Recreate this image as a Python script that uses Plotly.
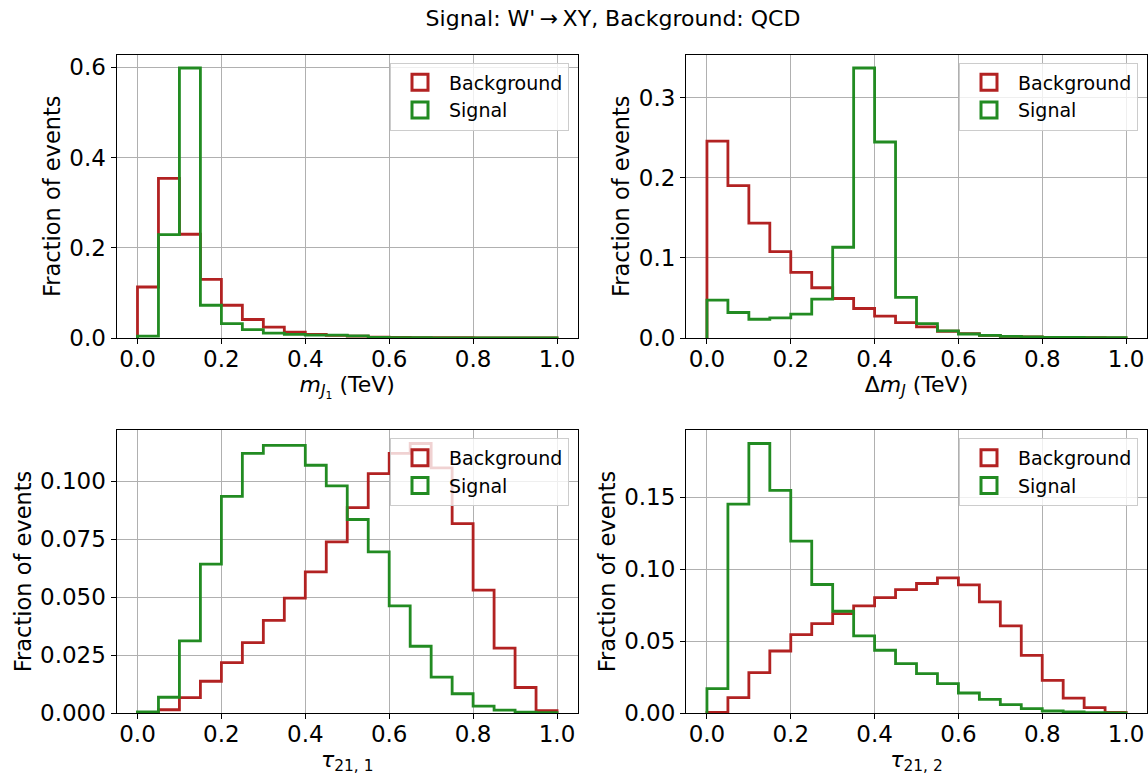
import plotly.graph_objects as go

# ---------------- data (fraction of events per bin, 20 bins on [0, 1]) ----------------
bin_edges = [0.0, 0.05, 0.1, 0.15, 0.2, 0.25, 0.3, 0.35, 0.4, 0.45, 0.5,
             0.55, 0.6, 0.65, 0.7, 0.75, 0.8, 0.85, 0.9, 0.95, 1.0]

mj1_bkg = [0.113, 0.354, 0.230, 0.130, 0.0726, 0.041, 0.024, 0.013, 0.008, 0.006,
           0.004, 0.002, 0.0012, 0.0009, 0.0007, 0.0005, 0.0004, 0.0003, 0.0002, 0.0001]
mj1_sig = [0.004, 0.229, 0.5985, 0.0726, 0.032, 0.0185, 0.011, 0.008, 0.0065, 0.0065,
           0.0045, 0.0015, 0.0008, 0.0005, 0.0004, 0.0003, 0.0002, 0.0002, 0.0001, 0.0001]

dmj_bkg = [0.2457, 0.190, 0.1433, 0.1078, 0.0819, 0.0627, 0.0493, 0.0368, 0.0272, 0.0192,
           0.0138, 0.0084, 0.0054, 0.0033, 0.002, 0.0013, 0.0008, 0.0005, 0.0003, 0.0002]
dmj_sig = [0.0472, 0.0318, 0.0234, 0.0251, 0.0297, 0.0485, 0.1132, 0.3368, 0.2445, 0.0506,
           0.018, 0.0088, 0.005, 0.0033, 0.002, 0.0013, 0.0009, 0.0006, 0.0004, 0.0003]

tau1_bkg = [0.0002, 0.0014, 0.0066, 0.0137, 0.0217, 0.0304, 0.040, 0.0496, 0.0609, 0.0738,
            0.0886, 0.1033, 0.112, 0.1163, 0.1058, 0.0817, 0.053, 0.028, 0.011, 0.001]
tau1_sig = [0.0005, 0.0068, 0.0311, 0.0642, 0.0935, 0.112, 0.1155, 0.1155, 0.1069, 0.098,
            0.0835, 0.0695, 0.0462, 0.0288, 0.0155, 0.0083, 0.003, 0.0012, 0.0004, 0.0001]

tau2_bkg = [0.0005, 0.0107, 0.0281, 0.0431, 0.0545, 0.0621, 0.0691, 0.0744, 0.0802, 0.0858,
            0.090, 0.0939, 0.089, 0.0772, 0.0605, 0.0401, 0.0227, 0.0104, 0.0037, 0.0005]
tau2_sig = [0.0169, 0.1451, 0.1873, 0.1547, 0.1194, 0.0893, 0.0707, 0.0536, 0.0436, 0.0343,
            0.0274, 0.0204, 0.0139, 0.0095, 0.0058, 0.003, 0.0014, 0.0007, 0.0002, 0.0001]

x_tick_vals = [0.0, 0.2, 0.4, 0.6, 0.8, 1.0]
y_ticks_mj1 = [0.0, 0.2, 0.4, 0.6]
y_ticks_dmj = [0.0, 0.1, 0.2, 0.3]
y_ticks_tau1 = [0.0, 0.025, 0.05, 0.075, 0.1]
y_ticks_tau2 = [0.0, 0.05, 0.1, 0.15]

x_labels = ["<i>m</i><sub><i>J</i><sub>1</sub></sub> (TeV)",
            "Δ<i>m</i><sub><i>J</i></sub> (TeV)",
            "<i>τ</i><sub>21, 1</sub>",
            "<i>τ</i><sub>21, 2</sub>"]
title_text = "Signal: W'\u2009→\u2009XY, Background: QCD"
series_names = ["Background", "Signal"]

# ---------------- style / layout ----------------
W, H = 1148, 777
RED = "#b22222"
GREEN = "#228b22"
FONT = "DejaVu Sans"
LW = 2.8

cols = [(116.5, 578.0), (686.0, 1147.0)]
rows = [(54.5, 338.0), (430.0, 713.0)]

panels = [
    (mj1_bkg, mj1_sig, y_ticks_mj1, ".1f", 0, 0),
    (dmj_bkg, dmj_sig, y_ticks_dmj, ".1f", 0, 1),
    (tau1_bkg, tau1_sig, y_ticks_tau1, ".3f", 1, 0),
    (tau2_bkg, tau2_sig, y_ticks_tau2, ".2f", 1, 1),
]


def step_xy(edges, vals):
    xs = [edges[0]] + list(edges[:-1]) + [edges[-1]]
    ys = [0.0] + list(vals) + [0.0]
    return xs, ys


fig = go.Figure()
layout = dict(
    width=W, height=H, autosize=False,
    margin=dict(l=0, r=0, t=0, b=0, pad=0, autoexpand=False),
    paper_bgcolor="white", plot_bgcolor="white",
    font=dict(family=FONT, size=20, color="black"),
    showlegend=True,
    title=dict(text=title_text, x=613 / W, y=1 - 18 / H, xref="paper", yref="container",
               xanchor="center", yanchor="middle", automargin=False,
               font=dict(family=FONT, size=22, color="black")),
)

for i, (bkg, sig, yt, yfmt, r, c) in enumerate(panels):
    n = "" if i == 0 else str(i + 1)
    xa, ya = "x" + n, "y" + n
    lg = "legend" + n
    x0, x1 = cols[c]
    t, b = rows[r]
    ymax = max(max(bkg), max(sig)) * 1.05

    for vals, color in ((bkg, RED), (sig, GREEN)):
        xs, ys = step_xy(bin_edges, vals)
        fig.add_trace(go.Scatter(x=xs, y=ys, mode="lines", line=dict(color=color, width=LW, shape="hv"),
                                 xaxis=xa, yaxis=ya, showlegend=False, hoverinfo="skip"))
    for color, name in ((RED, series_names[0]), (GREEN, series_names[1])):
        fig.add_trace(go.Scatter(x=[None], y=[None], mode="markers", name=name,
                                 marker=dict(symbol="square-open", size=16, color=color,
                                             line=dict(width=3, color=color)),
                                 xaxis=xa, yaxis=ya, legend=lg, showlegend=True))

    axis_common = dict(showline=True, mirror=True, linecolor="black", linewidth=1,
                       ticks="outside", ticklen=5, tickwidth=1, tickcolor="black",
                       showgrid=True, gridcolor="#b0b0b0", gridwidth=1, zeroline=False,
                       automargin=False,
                       tickfont=dict(family=FONT, size=23, color="black"))
    layout["xaxis" + n] = dict(axis_common, domain=[x0 / W, x1 / W], range=[-0.05, 1.05],
                               anchor=ya, tickvals=x_tick_vals, tickformat=".1f",
                               ticklabelstandoff=-5,
                               title=dict(text=x_labels[i], font=dict(family=FONT, size=22), standoff=1))
    layout["yaxis" + n] = dict(axis_common, domain=[1 - b / H, 1 - t / H], range=[0, ymax],
                               anchor=xa, tickvals=yt, tickformat=yfmt,
                               title=dict(text="Fraction of events", font=dict(family=FONT, size=22.5), standoff=2))
    layout[lg] = dict(x=(x1 - 9) / W, y=1 - (t + 8) / H, xanchor="right", yanchor="top",
                      xref="paper", yref="paper",
                      bgcolor="rgba(255,255,255,0.8)", bordercolor="#cccccc", borderwidth=1,
                      font=dict(family=FONT, size=19, color="black"), itemwidth=48,
                      tracegroupgap=0)

fig.update_layout(**layout)
fig.write_html("out.html")
